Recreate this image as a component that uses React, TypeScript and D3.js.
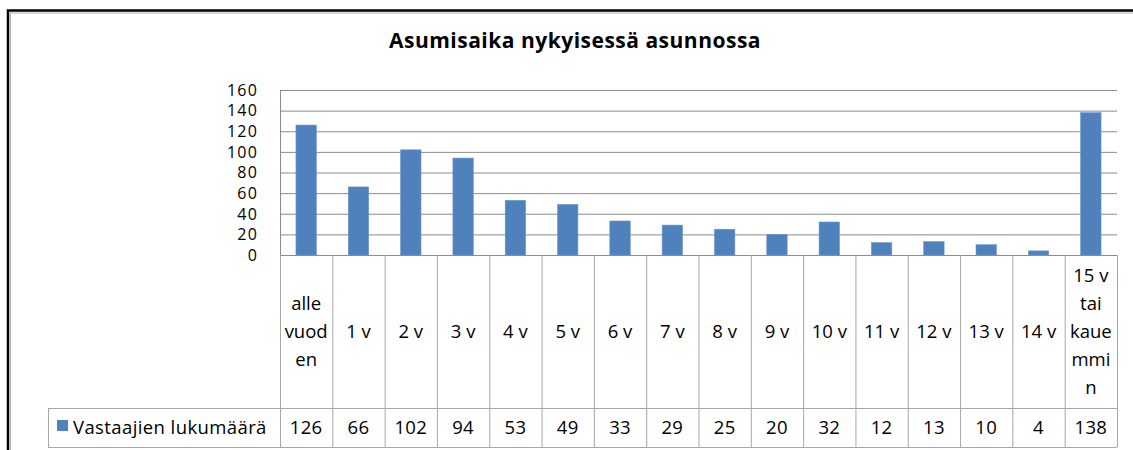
import React from "react";
import * as d3 from "d3";

const title = "Asumisaika nykyisessä asunnossa";
const seriesName = "Vastaajien lukumäärä";
const categories = [
  "alle vuoden", "1 v", "2 v", "3 v", "4 v", "5 v", "6 v", "7 v",
  "8 v", "9 v", "10 v", "11 v", "12 v", "13 v", "14 v", "15 v tai kauemmin",
];
const categoryLines = [
  ["alle", "vuod", "en"], ["1 v"], ["2 v"], ["3 v"], ["4 v"], ["5 v"], ["6 v"], ["7 v"],
  ["8 v"], ["9 v"], ["10 v"], ["11 v"], ["12 v"], ["13 v"], ["14 v"],
  ["15 v", "tai", "kaue", "mmi", "n"],
];
const values = [126, 66, 102, 94, 53, 49, 33, 29, 25, 20, 32, 12, 13, 10, 4, 138];
const yTicks = [0, 20, 40, 60, 80, 100, 120, 140, 160];

const FONT = "'Open Sans', Lato, sans-serif";

export default function App() {
  const W = 1133, H = 450;
  const plotLeft = 280, plotRight = 1117, plotTop = 90, plotBottom = 255;
  const labelRowBottom = 408, tableBottom = 447, legendLeft = 48;

  const x = d3.scaleBand<string>().domain(categories).range([plotLeft, plotRight]).paddingInner(0).paddingOuter(0);
  const y = d3.scaleLinear().domain([0, 160]).range([plotBottom, plotTop]);
  const bw = x.bandwidth();
  const barW = bw * 0.39;
  const lineH = 28;
  const labelMid = (plotBottom + labelRowBottom) / 2;
  const valueMid = (labelRowBottom + tableBottom) / 2;
  const gridColor = "#8c8c8c";
  const tableColor = "#a6a6a6";
  const fs = 18.5;
  const ls = "0.4px";

  return (
    <svg width={W} height={H} style={{ position: "absolute", left: 0, top: 0, background: "#fff" }}>
      <rect x={0} y={0} width={W} height={H} fill="#fff" />
      {/* outer frame */}
      <rect x={8} y={10.5} width={1140} height={460} fill="none" stroke="#000" strokeWidth={2.5} />
      <rect x={10.5} y={13} width={1135} height={455} fill="none" stroke="#b0b0b0" strokeWidth={1} />

      <text x={575} y={48} textAnchor="middle" fontFamily={FONT} fontWeight="bold" fontSize={21} letterSpacing="0.5px" fill="#000">
        {title}
      </text>

      {/* gridlines */}
      {yTicks.map((t) => (
        <line key={"g" + t} x1={plotLeft} x2={plotRight} y1={y(t) + 0.5} y2={y(t) + 0.5} stroke={gridColor} strokeWidth={1} />
      ))}
      <line x1={plotLeft + 0.5} x2={plotLeft + 0.5} y1={plotTop} y2={plotBottom} stroke={gridColor} strokeWidth={1} />

      {/* y tick labels */}
      {yTicks.map((t) => (
        <text key={"t" + t} x={258} y={y(t)} dy="0.36em" textAnchor="end" fontFamily={FONT} fontSize={16} letterSpacing="1.2px" fill="#000">
          {t}
        </text>
      ))}

      {/* bars */}
      {values.map((v, i) => {
        const cx = (x(categories[i]) as number) + bw / 2;
        return (
          <rect key={"b" + i} x={cx - barW / 2} y={y(v)} width={barW} height={y(0) - y(v)}
            fill="#4f81bd" stroke="#6a96cc" strokeWidth={0.6} />
        );
      })}

      {/* table lines */}
      {d3.range(categories.length + 1).map((i) => {
        const xx = plotLeft + i * bw;
        return (
          <line key={"v" + i} x1={xx + 0.5} x2={xx + 0.5} y1={plotBottom} y2={tableBottom} stroke={tableColor} strokeWidth={1} />
        );
      })}
      <line x1={legendLeft} x2={plotRight} y1={labelRowBottom + 0.5} y2={labelRowBottom + 0.5} stroke={tableColor} strokeWidth={1} />
      <line x1={legendLeft} x2={plotRight} y1={tableBottom + 0.5} y2={tableBottom + 0.5} stroke={tableColor} strokeWidth={1} />
      <line x1={legendLeft + 0.5} x2={legendLeft + 0.5} y1={labelRowBottom} y2={tableBottom} stroke={tableColor} strokeWidth={1} />

      {/* category labels */}
      {categoryLines.map((lines, i) => {
        const cx = (x(categories[i]) as number) + bw / 2;
        const start = labelMid - ((lines.length - 1) * lineH) / 2;
        return (
          <g key={"c" + i}>
            {lines.map((ln, j) => (
              <text key={j} x={cx} y={start + j * lineH} dy="0.36em" textAnchor="middle" fontFamily={FONT} fontSize={fs} fill="#000">
                {ln}
              </text>
            ))}
          </g>
        );
      })}

      {/* values row */}
      {values.map((v, i) => (
        <text key={"val" + i} x={(x(categories[i]) as number) + bw / 2} y={valueMid} dy="0.36em" textAnchor="middle"
          fontFamily={FONT} fontSize={fs} letterSpacing="0.3px" fill="#000">
          {v}
        </text>
      ))}

      {/* legend */}
      <rect x={57} y={420} width={11} height={11} fill="#4f81bd" />
      <text x={73} y={valueMid} dy="0.36em" fontFamily={FONT} fontSize={fs} letterSpacing={ls} fill="#000">
        {seriesName}
      </text>
    </svg>
  );
}
